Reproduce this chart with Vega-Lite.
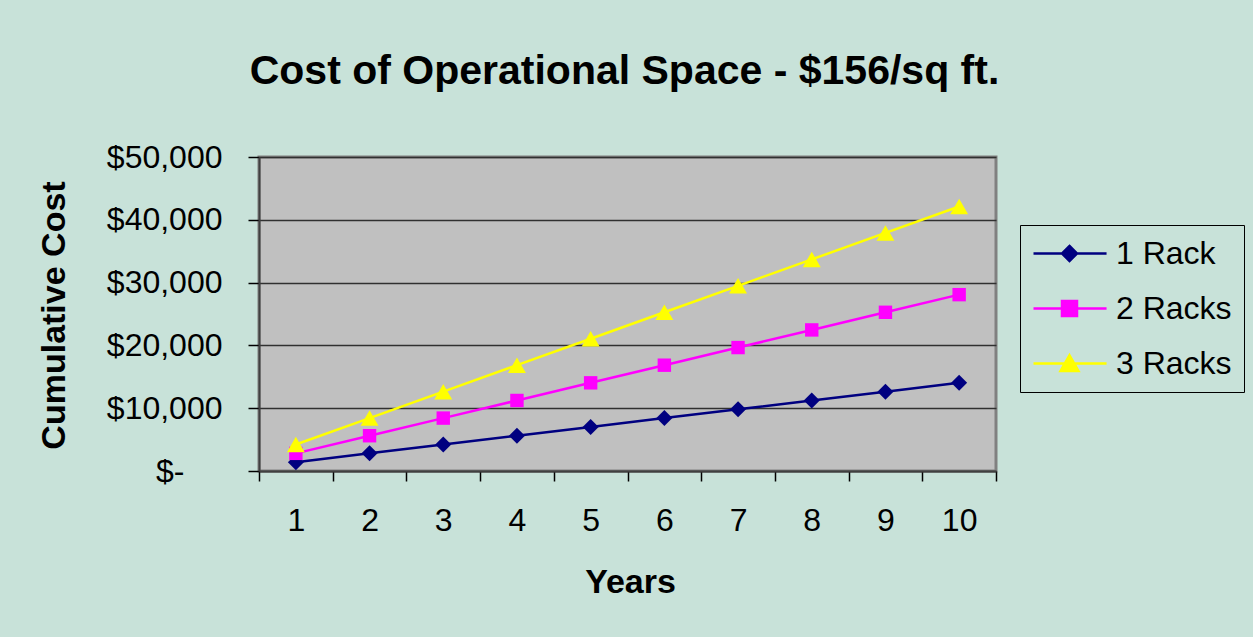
{
  "$schema": "https://vega.github.io/schema/vega-lite/v6.json",
  "autosize": "none",
  "width": 737,
  "height": 314,
  "padding": {"left": 259, "top": 157, "right": 257, "bottom": 166},
  "background": "#C8E2D9",
  "title": {
    "text": "Cost of Operational Space - $156/sq ft.",
    "font": "Liberation Sans",
    "fontSize": 41,
    "fontWeight": "bold",
    "color": "#000000",
    "anchor": "middle",
    "baseline": "alphabetic",
    "dx": -3,
    "offset": 16
  },
  "config": {
    "view": {"fill": "#C0C0C0", "stroke": "#808080", "strokeWidth": 3},
    "font": "Liberation Sans"
  },
  "data": {
    "values": [
      {"year": "1", "series": "1 Rack", "cost": 1404},
      {"year": "2", "series": "1 Rack", "cost": 2808},
      {"year": "3", "series": "1 Rack", "cost": 4212},
      {"year": "4", "series": "1 Rack", "cost": 5616},
      {"year": "5", "series": "1 Rack", "cost": 7020},
      {"year": "6", "series": "1 Rack", "cost": 8424},
      {"year": "7", "series": "1 Rack", "cost": 9828},
      {"year": "8", "series": "1 Rack", "cost": 11232},
      {"year": "9", "series": "1 Rack", "cost": 12636},
      {"year": "10", "series": "1 Rack", "cost": 14040},
      {"year": "1", "series": "2 Racks", "cost": 2808},
      {"year": "2", "series": "2 Racks", "cost": 5616},
      {"year": "3", "series": "2 Racks", "cost": 8424},
      {"year": "4", "series": "2 Racks", "cost": 11232},
      {"year": "5", "series": "2 Racks", "cost": 14040},
      {"year": "6", "series": "2 Racks", "cost": 16848},
      {"year": "7", "series": "2 Racks", "cost": 19656},
      {"year": "8", "series": "2 Racks", "cost": 22464},
      {"year": "9", "series": "2 Racks", "cost": 25272},
      {"year": "10", "series": "2 Racks", "cost": 28080},
      {"year": "1", "series": "3 Racks", "cost": 4212},
      {"year": "2", "series": "3 Racks", "cost": 8424},
      {"year": "3", "series": "3 Racks", "cost": 12636},
      {"year": "4", "series": "3 Racks", "cost": 16848},
      {"year": "5", "series": "3 Racks", "cost": 21060},
      {"year": "6", "series": "3 Racks", "cost": 25272},
      {"year": "7", "series": "3 Racks", "cost": 29484},
      {"year": "8", "series": "3 Racks", "cost": 33696},
      {"year": "9", "series": "3 Racks", "cost": 37908},
      {"year": "10", "series": "3 Racks", "cost": 42120}
    ]
  },
  "encoding": {
    "x": {
      "field": "year",
      "type": "ordinal",
      "sort": ["1","2","3","4","5","6","7","8","9","10"],
      "scale": {"type": "band", "paddingInner": 0, "paddingOuter": 0},
      "axis": {
        "title": "Years",
        "titleFont": "Liberation Sans",
        "titleFontSize": 34,
        "titleFontWeight": "bold",
        "titleColor": "#000000",
        "titleBaseline": "alphabetic",
        "titleX": 371,
        "titleY": 121,
        "labelFont": "Liberation Sans",
        "labelFontSize": 32,
        "labelColor": "#000000",
        "labelAngle": 0,
        "labelPadding": 24,
        "labelBaseline": "top",
        "tickBand": "extent",
        "tickSize": 10,
        "tickColor": "#000000",
        "tickWidth": 1.5,
        "domainColor": "#404040",
        "domainWidth": 2,
        "grid": false
      }
    },
    "y": {
      "field": "cost",
      "type": "quantitative",
      "scale": {"domain": [0, 50000], "nice": false, "zero": true},
      "axis": {
        "title": "Cumulative Cost",
        "titleFont": "Liberation Sans",
        "titleFontSize": 34,
        "titleFontWeight": "bold",
        "titleColor": "#000000",
        "titleBaseline": "alphabetic",
        "titleAngle": 270,
        "titleAlign": "center",
        "titleX": -195,
        "titleY": 158,
        "values": [0, 10000, 20000, 30000, 40000, 50000],
        "labelExpr": "datum.value == 0 ? '$-' : '$' + format(datum.value, ',')",
        "labelFont": "Liberation Sans",
        "labelFontSize": 32,
        "labelColor": "#000000",
        "labelPadding": {"condition": {"test": "datum.value == 0", "value": 64}, "value": 26},
        "tickSize": 11,
        "tickColor": "#000000",
        "tickWidth": 1.5,
        "domainColor": "#404040",
        "domainWidth": 2,
        "grid": true,
        "gridColor": "#303030",
        "gridWidth": 1.5,
        "gridOpacity": 1
      }
    }
  },
  "layer": [
    {
      "mark": {"type": "line", "strokeWidth": 2.5},
      "encoding": {
        "color": {
          "field": "series",
          "type": "nominal",
          "scale": {"domain": ["1 Rack", "2 Racks", "3 Racks"], "range": ["#000080", "#FF00FF", "#FFFF00"]},
          "legend": {
            "title": null,
            "orient": "none",
            "legendX": 761,
            "legendY": 68,
            "padding": 12,
            "strokeColor": "#000000",
            "fillColor": null,
            "labelFont": "Liberation Sans",
            "labelFontSize": 32,
            "labelColor": "#000000",
            "labelOffset": 51,
            "symbolSize": 900,
            "symbolStrokeWidth": 2.5,
            "rowPadding": 22,
            "encode": {
              "symbols": {
                "update": {
                  "shape": {"signal": "datum.value === '1 Rack' ? 'M-1,0L3.87,0M1.4,-0.5L1.9,0L1.4,0.5L0.9,0Z' : datum.value === '2 Racks' ? 'M-1,0L3.87,0M0.9,-0.5L1.9,-0.5L1.9,0.5L0.9,0.5Z' : 'M-1,0L3.87,0M1.4,-0.55L2.0,0.5L0.8,0.5Z'"},
                  "fill": {"signal": "datum.value === '1 Rack' ? '#000080' : datum.value === '2 Racks' ? '#FF00FF' : '#FFFF00'"},
                  "stroke": {"signal": "datum.value === '1 Rack' ? '#000080' : datum.value === '2 Racks' ? '#FF00FF' : '#FFFF00'"},
                  "fillOpacity": {"value": 1},
                  "opacity": {"value": 1}
                }
              }
            }
          }
        }
      }
    },
    {
      "transform": [{"filter": "datum.series === '1 Rack'"}],
      "mark": {"type": "point", "filled": true, "opacity": 1, "shape": "diamond", "size": 256, "color": "#000080"}
    },
    {
      "transform": [{"filter": "datum.series === '2 Racks'"}],
      "mark": {"type": "point", "filled": true, "opacity": 1, "shape": "square", "size": 180, "color": "#FF00FF"}
    },
    {
      "transform": [{"filter": "datum.series === '3 Racks'"}],
      "mark": {"type": "point", "filled": true, "opacity": 1, "shape": "triangle-up", "size": 320, "color": "#FFFF00"}
    }
  ]
}
